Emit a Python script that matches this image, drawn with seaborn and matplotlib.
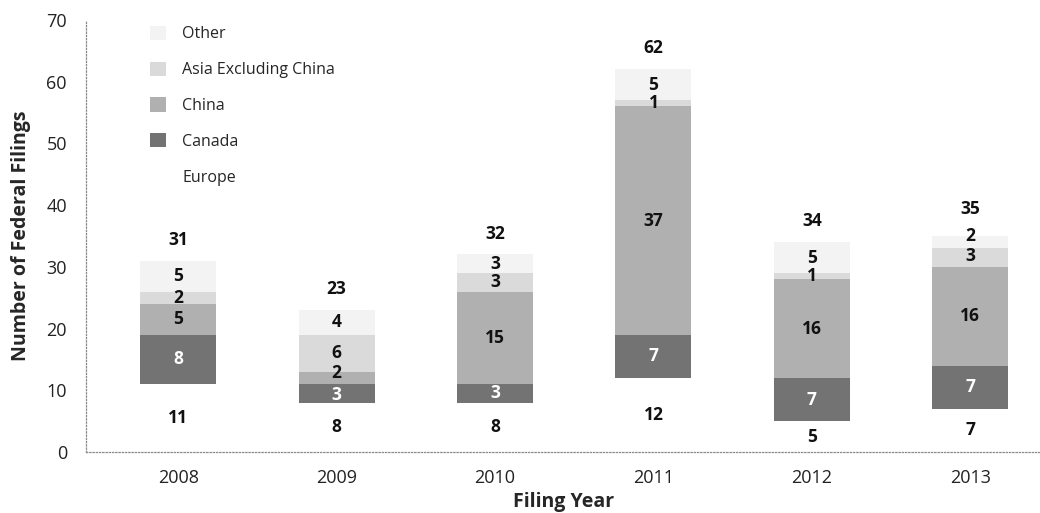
import numpy as np
import pandas as pd
import matplotlib
matplotlib.use("Agg")
import matplotlib.pyplot as plt
import seaborn as sns

# Federal filings by defendant origin, per filing year
years = ["2008", "2009", "2010", "2011", "2012", "2013"]
europe = [11, 8, 8, 12, 5, 7]
canada = [8, 3, 3, 7, 7, 7]
china = [5, 2, 15, 37, 16, 16]
asia_ex_china = [2, 6, 3, 1, 1, 3]
other = [5, 4, 3, 5, 5, 2]
totals = [31, 23, 32, 62, 34, 35]

regions = ["Europe", "Canada", "China", "Asia Excluding China", "Other"]
series = [europe, canada, china, asia_ex_china, other]
colors = {
    "Europe": "#ffffff",
    "Canada": "#737373",
    "China": "#b0b0b0",
    "Asia Excluding China": "#dadada",
    "Other": "#f3f3f3",
}

# small vertical nudges so labels of thin neighbouring segments stay apart
label_nudge = {
    ("2009", "China"): 0.8,
    ("2009", "Canada"): -0.3,
    ("2013", "Other"): 1.0,
    ("2013", "Asia Excluding China"): 0.2,
}

sns.set_theme(style="white")
plt.rcParams["font.family"] = ["Open Sans", "DejaVu Sans"]

# cumulative tops, so that overlapping bars form the stack
cum = np.cumsum(np.array(series), axis=0)
rows = []
for r, reg in enumerate(regions):
    for i, y in enumerate(years):
        rows.append({"year": y, "region": reg, "top": cum[r, i],
                     "value": series[r][i], "base": cum[r, i] - series[r][i]})
df = pd.DataFrame(rows)

fig = plt.figure(figsize=(10.4, 5.13), dpi=100)
ax = fig.add_axes([0.083, 0.119, 0.917, 0.842])

draw_order = regions[::-1]  # tallest cumulative first
sns.barplot(data=df, x="year", y="top", hue="region", hue_order=draw_order,
            order=years, dodge=False, palette=colors, width=0.48,
            edgecolor="none", linewidth=0, ax=ax)

# segment labels
for _, row in df.iterrows():
    i = years.index(row["year"])
    mid = row["base"] + row["value"] / 2
    mid += label_nudge.get((row["year"], row["region"]), 0.0)
    col = "white" if row["region"] == "Canada" else "#111111"
    ax.text(i, mid, f"{row['value']}", ha="center", va="center",
            fontsize=12.5, fontweight="bold", color=col)

# totals above each stack
for i, t in enumerate(totals):
    extra = 1.0 if years[i] == "2013" else 0.0
    ax.text(i, cum[-1, i] + 3.4 + extra, f"{t}", ha="center", va="center",
            fontsize=12.5, fontweight="bold", color="#111111")

ax.set_ylim(0, 70)
ax.set_xlim(-0.58, 5.44)
ax.set_yticks(range(0, 71, 10))
ax.tick_params(axis="both", length=0, labelsize=13, colors="#222222")
ax.tick_params(axis="x", pad=12)
ax.tick_params(axis="y", pad=14)
ax.set_xlabel("Filing Year", fontsize=14, fontweight="bold", labelpad=4)
ax.set_ylabel("Number of Federal Filings", fontsize=14, fontweight="bold", labelpad=11)

for side in ["top", "right"]:
    ax.spines[side].set_visible(False)
for side in ["left", "bottom"]:
    ax.spines[side].set_color("#8a8a8a")
    ax.spines[side].set_linestyle((0, (1, 1.6)))
    ax.spines[side].set_linewidth(0.9)

handles, labels = ax.get_legend_handles_labels()
ax.legend(handles, labels, loc="upper left", bbox_to_anchor=(0.052, 1.02),
          frameon=False, fontsize=11.5, labelspacing=1.2,
          handlelength=1.0, handleheight=1.0, handletextpad=1.0)

fig.savefig("out.png", dpi=100)
